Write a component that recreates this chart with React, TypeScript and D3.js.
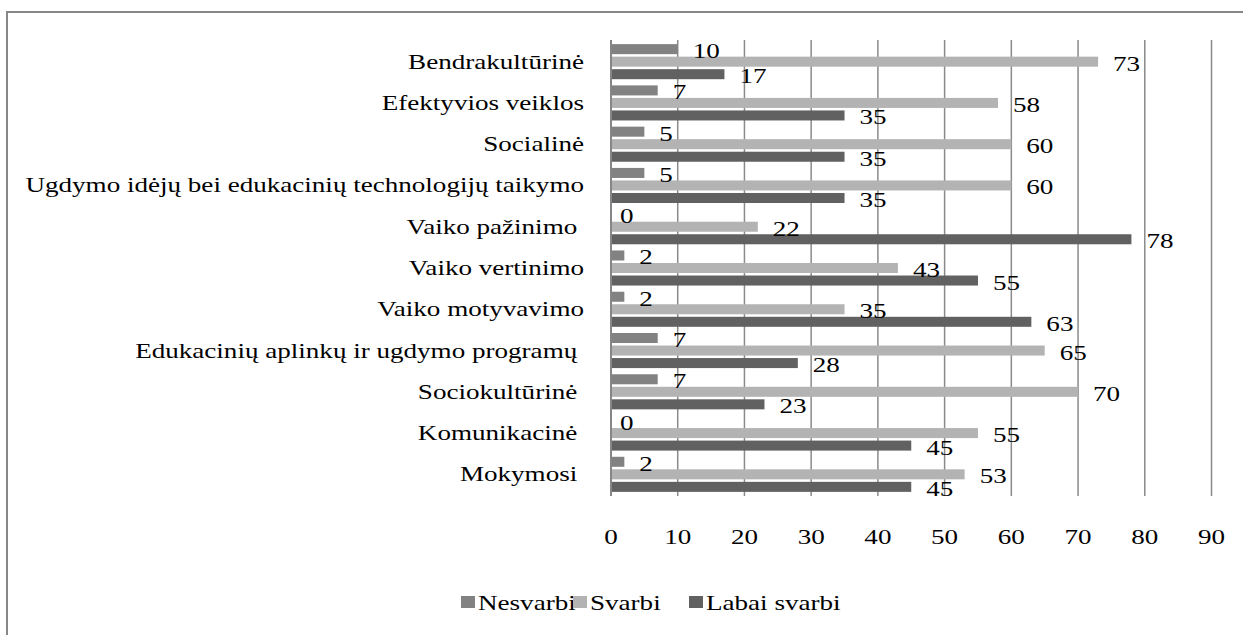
import * as d3 from "d3";
import { useEffect, useRef } from "react";

// categories, top to bottom
const categories = [
  "Bendrakultūrinė",
  "Efektyvios veiklos",
  "Socialinė",
  "Ugdymo idėjų bei edukacinių technologijų taikymo",
  "Vaiko pažinimo ",
  "Vaiko vertinimo",
  "Vaiko motyvavimo",
  "Edukacinių aplinkų ir ugdymo programų ",
  "Sociokultūrinė ",
  "Komunikacinė ",
  "Mokymosi ",
];

const seriesNames = ["Nesvarbi", "Svarbi", "Labai svarbi"];
const seriesColors = ["#828282", "#b3b3b3", "#616161"];

const nesvarbi = [10, 7, 5, 5, 0, 2, 2, 7, 7, 0, 2];
const svarbi = [73, 58, 60, 60, 22, 43, 35, 65, 70, 55, 53];
const labaiSvarbi = [17, 35, 35, 35, 78, 55, 63, 28, 23, 45, 45];

const xTicks = [0, 10, 20, 30, 40, 50, 60, 70, 80, 90];

const W = 1243;
const H = 635;
const FONT = "'Liberation Serif', 'Times New Roman', serif";
const FS = 21;
// the original text is stretched sideways
const SX = 1.29;

export default function App() {
  const ref = useRef<SVGSVGElement>(null);

  useEffect(() => {
    const svg = d3.select(ref.current);
    svg.selectAll("*").remove();

    // chart frame
    svg
      .append("rect")
      .attr("x", 7)
      .attr("y", 12)
      .attr("width", W + 20)
      .attr("height", H + 20)
      .attr("fill", "white")
      .attr("stroke", "#878787")
      .attr("stroke-width", 2);

    const x = d3.scaleLinear().domain([0, 90]).range([611, 1211.5]);
    const y0 = d3
      .scaleBand<string>()
      .domain(categories)
      .range([40, 496])
      .paddingInner(0.15)
      .paddingOuter(0.1);
    const y1 = d3
      .scaleBand<string>()
      .domain(seriesNames)
      .range([0, y0.bandwidth()])
      .paddingInner(0.2)
      .paddingOuter(0);

    // place a stretched text at (px, py)
    const txt = (sel: any, px: (d: any, i: number) => number, py: (d: any, i: number) => number) =>
      sel
        .attr("transform", (d: any, i: number) => `translate(${px(d, i)},${py(d, i)}) scale(${SX},1)`)
        .attr("font-family", FONT)
        .attr("font-size", FS)
        .attr("fill", "#000");

    // gridlines (with tick extension below the plot)
    svg
      .append("g")
      .selectAll("line")
      .data(xTicks)
      .join("line")
      .attr("x1", (d) => x(d))
      .attr("x2", (d) => x(d))
      .attr("y1", 40)
      .attr("y2", 496)
      .attr("stroke", "#8a8a8a")
      .attr("stroke-width", 1.5);

    const series = [nesvarbi, svarbi, labaiSvarbi];
    const rows = categories.map((c, i) => ({
      cat: c,
      vals: seriesNames.map((s, j) => ({ s, j, v: series[j][i] })),
    }));

    const groups = svg
      .append("g")
      .selectAll("g")
      .data(rows)
      .join("g")
      .attr("transform", (d) => `translate(0,${y0(d.cat)})`);

    groups
      .selectAll("rect")
      .data((d) => d.vals)
      .join("rect")
      .attr("x", x(0))
      .attr("y", (d) => y1(d.s)!)
      .attr("width", (d) => x(d.v) - x(0))
      .attr("height", y1.bandwidth())
      .attr("fill", (d) => seriesColors[d.j]);

    groups
      .selectAll("text")
      .data((d) => d.vals)
      .join("text")
      .call(
        txt,
        (d: any) => x(d.v) + (d.v === 0 ? 9 : 15),
        (d: any) => y1(d.s)! + y1.bandwidth() / 2 + 9
      )
      .text((d) => d.v);

    // category axis
    svg
      .append("line")
      .attr("x1", x(0))
      .attr("x2", x(0))
      .attr("y1", 40)
      .attr("y2", 496)
      .attr("stroke", "#868686")
      .attr("stroke-width", 2);

    svg
      .append("g")
      .selectAll("text")
      .data(categories)
      .join("text")
      .call(
        txt,
        () => 584,
        (d: any) => y0(d)! + y0.bandwidth() / 2 + 7
      )
      .attr("text-anchor", "end")
      .style("white-space", "pre")
      .text((d) => d);

    // value axis labels
    svg
      .append("g")
      .selectAll("text")
      .data(xTicks)
      .join("text")
      .call(
        txt,
        (d: any) => x(d),
        () => 544
      )
      .attr("text-anchor", "middle")
      .text((d) => d);

    // legend
    const legendX = [461, 573, 689];
    const leg = svg
      .append("g")
      .selectAll("g")
      .data(seriesNames)
      .join("g")
      .attr("transform", (_, i) => `translate(${legendX[i]},596)`);
    leg
      .append("rect")
      .attr("width", 14)
      .attr("height", 12)
      .attr("fill", (_, i) => seriesColors[i]);
    leg
      .append("text")
      .call(
        txt,
        () => 17,
        () => 14
      )
      .text((d) => d);
  }, []);

  return (
    <svg
      ref={ref}
      width={W}
      height={H}
      style={{ position: "absolute", left: 0, top: 0, background: "white" }}
    />
  );
}
